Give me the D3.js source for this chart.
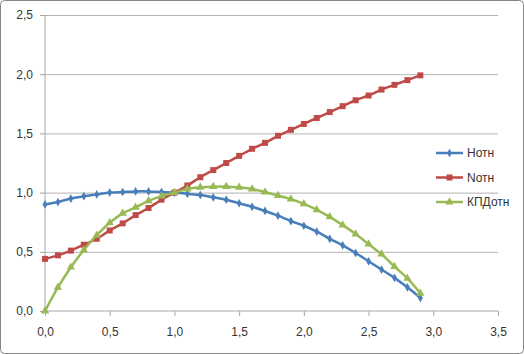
<html lang="ru">
<head>
  <meta charset="UTF-8">
  <title>Нотн / Nотн / КПДотн</title>
  <script src="https://d3js.org/d3.v7.min.js"></script>
</head>
<style>
  body { margin: 0; background: #fff; }
  .gridlines line { stroke: #b3b3b3; }
  .gridlines .domain { stroke: none; }
  .axis text { font-family: "Liberation Sans", Arial, sans-serif; font-size: 12px; fill: #333; }
  .axis line, .axis path { stroke: #a6a6a6; }
</style>
<body>
  <svg class="chart" width="524" height="354"></svg>
  <script>
    // x values 0..2.9 step 0.1
    const xs = [0.0, 0.1, 0.2, 0.3, 0.4, 0.5, 0.6, 0.7, 0.8, 0.9, 1.0, 1.1, 1.2, 1.3, 1.4,
      1.5, 1.6, 1.7, 1.8, 1.9, 2.0, 2.1, 2.2, 2.3, 2.4, 2.5, 2.6, 2.7, 2.8, 2.9];
    const hOtn = [0.90, 0.92, 0.95, 0.97, 0.985, 1.00, 1.005, 1.01, 1.01, 1.005, 1.00, 0.99, 0.98, 0.96, 0.94,
      0.91, 0.88, 0.845, 0.805, 0.76, 0.72, 0.67, 0.61, 0.555, 0.49, 0.42, 0.35, 0.28, 0.20, 0.11];
    const nOtn = [0.44, 0.47, 0.51, 0.56, 0.61, 0.68, 0.74, 0.81, 0.87, 0.94, 1.00, 1.06, 1.13, 1.19, 1.25,
      1.31, 1.37, 1.42, 1.48, 1.53, 1.58, 1.63, 1.68, 1.73, 1.78, 1.82, 1.87, 1.91, 1.95, 1.99];
    const kpdOtn = [0.00, 0.20, 0.37, 0.515, 0.64, 0.745, 0.825, 0.875, 0.93, 0.97, 1.00, 1.03, 1.045, 1.05, 1.05,
      1.045, 1.03, 1.005, 0.975, 0.945, 0.905, 0.855, 0.795, 0.725, 0.65, 0.565, 0.48, 0.375, 0.275, 0.15];
    const xTicks = [0, 0.5, 1.0, 1.5, 2.0, 2.5, 3.0, 3.5];
    const yTicks = [0, 0.5, 1.0, 1.5, 2.0, 2.5];

    const series = [
      { name: 'Нотн', values: hOtn, color: '#4a7ebb', marker: d3.symbolDiamond, size: 22 },
      { name: 'Nотн', values: nOtn, color: '#be4b48', marker: d3.symbolSquare, size: 36 },
      { name: 'КПДотн', values: kpdOtn, color: '#98b954', marker: d3.symbolTriangle, size: 30 }
    ];

    const svg = d3.select('svg.chart');
    const fmt = d => d3.format('.1f')(d).replace('.', ',');

    // outer frame
    svg.append('rect')
      .attr('x', 0.5).attr('y', 0.5)
      .attr('width', 523).attr('height', 353)
      .attr('rx', 4)
      .attr('fill', '#fff')
      .attr('stroke', '#868686');

    const xScale = d3.scaleLinear().domain([0, 3.5]).range([45, 498]);
    const yScale = d3.scaleLinear().domain([0, 2.5]).range([311, 15]);

    // gridlines
    svg.append('g')
      .attr('class', 'gridlines')
      .attr('transform', 'translate(45,0)')
      .call(d3.axisLeft(yScale).tickValues(yTicks.slice(1)).tickSize(-453).tickFormat(''));

    // axes
    svg.append('g')
      .attr('class', 'axis')
      .attr('transform', 'translate(45,0)')
      .call(d3.axisLeft(yScale).tickValues(yTicks).tickSize(5).tickPadding(7).tickFormat(fmt));

    svg.append('g')
      .attr('class', 'axis')
      .attr('transform', 'translate(0,311)')
      .call(d3.axisBottom(xScale).tickValues(xTicks).tickSize(5).tickPadding(11).tickFormat(fmt));

    svg.selectAll('.axis .domain').attr('d', function () {
      return d3.select(this.parentNode).attr('transform') === 'translate(45,0)'
        ? 'M0,15V311' : 'M45,0H498';
    });

    const line = d3.line()
      .x((d, i) => xScale(xs[i]))
      .y(d => yScale(d))
      .curve(d3.curveCatmullRom.alpha(0.5));

    series.forEach(s => {
      const g = svg.append('g');
      g.append('path')
        .attr('d', line(s.values))
        .attr('fill', 'none')
        .attr('stroke', s.color)
        .attr('stroke-width', 2.5);
      g.selectAll('path.m')
        .data(s.values)
        .join('path')
        .attr('class', 'm')
        .attr('transform', (d, i) => `translate(${xScale(xs[i])},${yScale(d)})`)
        .attr('d', d3.symbol().type(s.marker).size(s.size))
        .attr('fill', s.color);
    });

    // legend
    const legend = svg.append('g').attr('transform', 'translate(436,153)');
    series.forEach((s, i) => {
      const row = legend.append('g').attr('transform', `translate(0,${i * 24.5})`);
      row.append('line')
        .attr('x1', 0).attr('x2', 27)
        .attr('stroke', s.color).attr('stroke-width', 2.5);
      row.append('path')
        .attr('transform', 'translate(13.5,0)')
        .attr('d', d3.symbol().type(s.marker).size(s.size))
        .attr('fill', s.color);
      row.append('text')
        .attr('x', 31).attr('y', 4)
        .attr('font-family', '"Liberation Sans", Arial, sans-serif')
        .attr('font-size', 12)
        .attr('fill', '#333')
        .text(s.name);
    });
  </script>
</body>
</html>
